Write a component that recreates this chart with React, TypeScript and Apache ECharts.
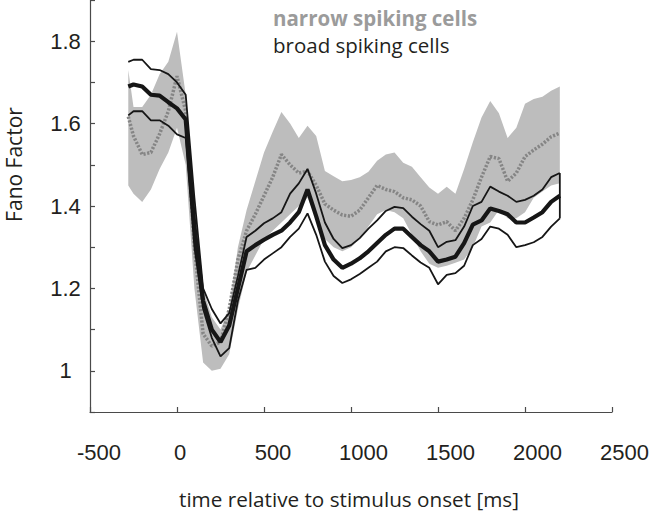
import React, { useEffect, useRef } from 'react';
import * as echarts from 'echarts';

// time relative to stimulus onset [ms]
const times = [-280, -250, -200, -150, -100, -50, 0, 50, 100, 150, 200, 250, 300, 350, 400, 450, 500, 550, 600, 650, 700, 750, 800, 850, 900, 950, 1000, 1050, 1100, 1150, 1200, 1250, 1300, 1350, 1400, 1450, 1500, 1550, 1600, 1650, 1700, 1750, 1800, 1850, 1900, 1950, 2000, 2050, 2100, 2150, 2200];

// broad spiking cells: mean and its two bounds
const broadMean = [1.69, 1.695, 1.69, 1.67, 1.668, 1.652, 1.637, 1.61, 1.35, 1.17, 1.10, 1.07, 1.11, 1.20, 1.29, 1.305, 1.318, 1.33, 1.34, 1.36, 1.385, 1.44, 1.375, 1.305, 1.27, 1.25, 1.26, 1.273, 1.29, 1.31, 1.33, 1.345, 1.345, 1.325, 1.305, 1.29, 1.265, 1.27, 1.277, 1.31, 1.355, 1.365, 1.394, 1.388, 1.38, 1.36, 1.36, 1.372, 1.385, 1.41, 1.425];
const broadUpper = [1.75, 1.755, 1.755, 1.732, 1.73, 1.72, 1.70, 1.67, 1.42, 1.20, 1.15, 1.115, 1.14, 1.23, 1.325, 1.34, 1.358, 1.37, 1.385, 1.43, 1.455, 1.49, 1.43, 1.36, 1.32, 1.298, 1.305, 1.322, 1.345, 1.365, 1.388, 1.398, 1.395, 1.374, 1.356, 1.34, 1.30, 1.313, 1.317, 1.35, 1.40, 1.41, 1.447, 1.435, 1.425, 1.41, 1.415, 1.425, 1.44, 1.47, 1.48];
const broadLower = [1.62, 1.63, 1.63, 1.608, 1.608, 1.595, 1.574, 1.565, 1.30, 1.15, 1.08, 1.035, 1.055, 1.17, 1.245, 1.25, 1.27, 1.285, 1.30, 1.325, 1.345, 1.382, 1.33, 1.265, 1.23, 1.213, 1.222, 1.235, 1.25, 1.265, 1.29, 1.30, 1.298, 1.28, 1.263, 1.25, 1.21, 1.233, 1.237, 1.255, 1.305, 1.32, 1.35, 1.345, 1.33, 1.30, 1.305, 1.312, 1.325, 1.35, 1.37];

// narrow spiking cells: mean and shaded band
const narrowMean = [1.617, 1.57, 1.525, 1.53, 1.575, 1.63, 1.715, 1.63, 1.30, 1.09, 1.06, 1.07, 1.15, 1.27, 1.34, 1.38, 1.425, 1.47, 1.525, 1.50, 1.48, 1.485, 1.45, 1.405, 1.39, 1.378, 1.375, 1.39, 1.42, 1.45, 1.44, 1.435, 1.42, 1.415, 1.40, 1.362, 1.354, 1.362, 1.34, 1.37, 1.415, 1.47, 1.52, 1.515, 1.46, 1.48, 1.52, 1.536, 1.55, 1.568, 1.577];
const narrowUpper = [1.73, 1.64, 1.64, 1.67, 1.72, 1.75, 1.823, 1.67, 1.40, 1.20, 1.13, 1.10, 1.15, 1.30, 1.39, 1.46, 1.53, 1.58, 1.628, 1.60, 1.565, 1.595, 1.57, 1.485, 1.472, 1.46, 1.463, 1.47, 1.483, 1.51, 1.525, 1.53, 1.505, 1.495, 1.47, 1.445, 1.43, 1.447, 1.43, 1.49, 1.555, 1.615, 1.655, 1.625, 1.565, 1.59, 1.648, 1.66, 1.665, 1.68, 1.69];
const narrowLower = [1.45, 1.43, 1.41, 1.44, 1.49, 1.53, 1.59, 1.50, 1.20, 1.02, 1.00, 1.005, 1.04, 1.15, 1.24, 1.28, 1.32, 1.34, 1.36, 1.38, 1.40, 1.42, 1.37, 1.32, 1.30, 1.29, 1.30, 1.32, 1.35, 1.38, 1.39, 1.385, 1.37, 1.33, 1.29, 1.26, 1.25, 1.255, 1.262, 1.27, 1.30, 1.35, 1.36, 1.39, 1.37, 1.37, 1.385, 1.42, 1.435, 1.45, 1.455];

const legendLabels = ['narrow spiking cells', 'broad spiking cells'];
const xTitle = 'time relative to stimulus onset [ms]';
const yTitle = 'Fano Factor';

const TICK_FONT = '"Liberation Sans", Arial, Helvetica, sans-serif';
const TEXT_FONT = '"Open Sans", "Noto Sans", sans-serif';
const AXIS_COLOR = '#4a4a4a';

export default function App() {
  const ref = useRef<HTMLDivElement>(null);

  useEffect(() => {
    document.body.style.margin = '0';
    const chart = echarts.init(ref.current as HTMLDivElement, null, { renderer: 'svg' });
    const pair = (vals: number[]) => times.map((t, i) => [t, vals[i]]);
    const bandData = times.map((t, i) => [t, narrowLower[i], narrowUpper[i]]);
    const last = times.length - 1;
    const edge = [
      [times[last], broadLower[last]],
      [times[last], broadUpper[last]],
    ];
    const richBase = { fontSize: 22, fontFamily: TICK_FONT, color: '#231f20' };

    chart.setOption({
      animation: false,
      grid: { left: 90, right: 39.4, top: 0, bottom: 100, containLabel: false },
      xAxis: {
        type: 'value',
        min: -500,
        max: 2500,
        interval: 500,
        axisLine: { show: true, onZero: false, lineStyle: { color: AXIS_COLOR, width: 1.2 } },
        axisTick: { show: true, inside: true, length: 5, lineStyle: { color: AXIS_COLOR, width: 1.2 } },
        splitLine: { show: false },
        axisLabel: {
          margin: 29,
          formatter: (v: number) => {
            const s = String(v);
            const k = s === '0' ? 'a' : s.length <= 3 || s.startsWith('-') ? 'b' : 'c';
            return `{${k}|${s}}`;
          },
          rich: {
            a: { ...richBase, padding: [0, 0, 0, 6] },
            b: { ...richBase, padding: [0, 0, 0, 18] },
            c: { ...richBase, padding: [0, 0, 0, 25] },
          },
        },
      },
      yAxis: {
        type: 'value',
        min: 0.9,
        max: 1.9,
        interval: 0.1,
        axisLine: { show: true, onZero: false, lineStyle: { color: AXIS_COLOR, width: 1.2 } },
        axisTick: { show: true, inside: true, length: 5, lineStyle: { color: AXIS_COLOR, width: 1.2 } },
        splitLine: { show: false },
        axisLabel: {
          margin: 24.5,
          align: 'center',
          fontSize: 22,
          fontFamily: TICK_FONT,
          color: '#231f20',
          formatter: (v: number) => {
            const k = Math.round(v * 10);
            if (k % 2 !== 0 || k < 10 || k > 18) return '';
            return String(k / 10);
          },
        },
      },
      graphic: [
        {
          type: 'text',
          x: 273,
          y: 18,
          z: 100,
          style: { text: legendLabels[0], font: `bold 20.5px ${TEXT_FONT}`, fill: '#9b9b9b', verticalAlign: 'middle' },
        },
        {
          type: 'text',
          x: 273,
          y: 45,
          z: 100,
          style: { text: legendLabels[1], font: `20.5px ${TEXT_FONT}`, fill: '#231f20', verticalAlign: 'middle' },
        },
        {
          type: 'text',
          x: 349,
          y: 499,
          style: { text: xTitle, font: `20.7px ${TEXT_FONT}`, fill: '#231f20', align: 'center', verticalAlign: 'middle' },
        },
        {
          type: 'text',
          x: 14,
          y: 164.5,
          rotation: Math.PI / 2,
          style: { text: yTitle, font: `21px ${TEXT_FONT}`, fill: '#231f20', align: 'center', verticalAlign: 'middle' },
        },
      ],
      series: [
        {
          name: 'narrowBand',
          type: 'custom',
          data: bandData,
          encode: { x: 0, y: [1, 2] },
          silent: true,
          z: 1,
          renderItem: (params: any, api: any) => {
            if (params.dataIndex !== 0) return null;
            const upper = bandData.map((d) => api.coord([d[0], d[2]]));
            const lower = bandData.map((d) => api.coord([d[0], d[1]])).reverse();
            return {
              type: 'polygon',
              shape: { points: upper.concat(lower) },
              style: { fill: '#bdbdbd', stroke: 'none' },
            };
          },
        },
        {
          name: legendLabels[0],
          type: 'line',
          data: pair(narrowMean),
          symbol: 'none',
          z: 2,
          lineStyle: { color: '#858585', width: 3.5, type: [2.2, 1.6], cap: 'butt' },
        },
        {
          name: 'broadUpper',
          type: 'line',
          data: pair(broadUpper),
          symbol: 'none',
          z: 3,
          lineStyle: { color: '#161616', width: 1.8 },
        },
        {
          name: 'broadLower',
          type: 'line',
          data: pair(broadLower),
          symbol: 'none',
          z: 3,
          lineStyle: { color: '#161616', width: 1.8 },
        },
        {
          name: 'broadEdge',
          type: 'line',
          data: edge,
          symbol: 'none',
          z: 3,
          lineStyle: { color: '#161616', width: 1.8 },
        },
        {
          name: legendLabels[1],
          type: 'line',
          data: pair(broadMean),
          symbol: 'none',
          z: 4,
          lineStyle: { color: '#161616', width: 4.2 },
        },
      ],
    });

    return () => chart.dispose();
  }, []);

  return <div ref={ref} style={{ width: 652, height: 512 }} />;
}
